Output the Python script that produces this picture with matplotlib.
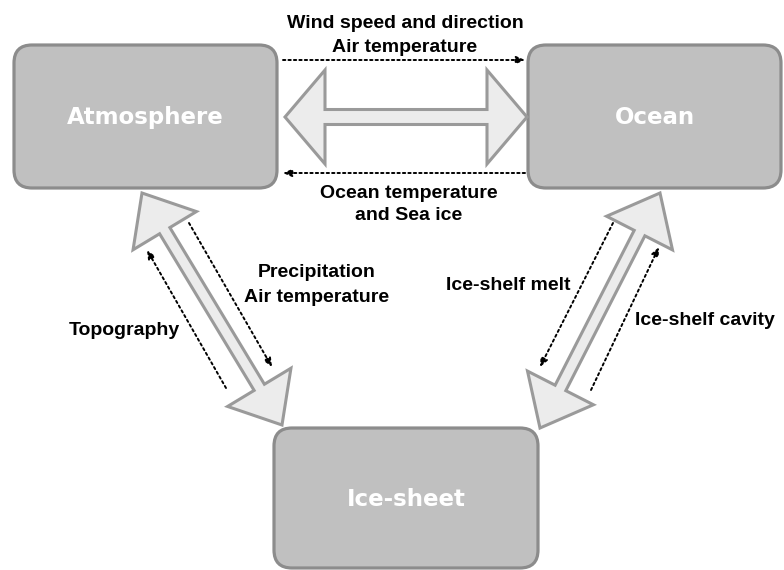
import numpy as np
import matplotlib
matplotlib.use('Agg')
import matplotlib.pyplot as plt
from matplotlib.patches import FancyBboxPatch, Polygon

# component names shown in the grey boxes
nodes = ['Atmosphere', 'Ocean', 'Ice-sheet']
# exchanged fields, one entry per text line
links = [
    ['Wind speed and direction', 'Air temperature'],
    ['Ocean temperature', 'and Sea ice'],
    ['Precipitation', 'Air temperature'],
    ['Topography'],
    ['Ice-shelf melt'],
    ['Ice-shelf cavity'],
]

# layout (pixel coordinates, y downwards)
box_xy = [(14, 45, 263, 143), (528, 45, 253, 143), (274, 428, 264, 140)]
big_arrows = [((285, 117), (527, 117), 7.5, 47, 40),
              ((142, 193), (282, 425), 6, 37, 44),
              ((660, 193), (540, 428), 6, 37, 45)]
dot_arrows = [((283, 60), (525, 60)),
              ((525, 173), (283, 173)),
              ((189, 223), (272, 367)),
              ((226, 388), (147, 250)),
              ((613, 223), (540, 367)),
              ((591, 390), (659, 247))]
# (x, first baseline, line step, align)
link_pos = [(405, 28, 24.5, 'center'),
            (409, 198, 22.5, 'center'),
            (317, 277, 25, 'center'),
            (180, 335, 0, 'right'),
            (571, 290, 0, 'right'),
            (635, 325, 0, 'left')]

BOX_FC = '#c0c0c0'
BOX_EC = '#8c8c8c'
ARR_FC = '#ececec'
ARR_EC = '#9a9a9a'


def arrowPoly(p0, p1, w, hw, hl):
    p0 = np.array(p0, float)
    p1 = np.array(p1, float)
    u = (p1 - p0) / np.linalg.norm(p1 - p0)
    n = np.array([-u[1], u[0]])
    a = p0 + u*hl
    b = p1 - u*hl
    pts = [p0, a + n*hw, a + n*w, b + n*w, b + n*hw, p1,
           b - n*hw, b - n*w, a - n*w, a - n*hw]
    return np.array(pts)


fig = plt.figure(figsize=(7.84, 5.70), dpi=100)
ax = fig.add_axes([0, 0, 1, 1])
ax.set_xlim(0, 784)
ax.set_ylim(570, 0)
ax.axis('off')

for (x, y, w, h), name in zip(box_xy, nodes):
    box = FancyBboxPatch((x, y), w, h, boxstyle='round,pad=0,rounding_size=18',
                         fc=BOX_FC, ec=BOX_EC, lw=2.3, zorder=2)
    ax.add_patch(box)
    ax.text(x + w/2, y + h/2 + 1, name, ha='center', va='center', color='white',
            fontsize=16.5, fontweight='bold', family='DejaVu Sans', zorder=3)

for p0, p1, w, hw, hl in big_arrows:
    poly = Polygon(arrowPoly(p0, p1, w, hw, hl), closed=True, fc=ARR_FC,
                   ec=ARR_EC, lw=2.2, joinstyle='miter', zorder=2)
    ax.add_patch(poly)

for start, end in dot_arrows:
    ax.annotate('', xy=end, xytext=start,
                arrowprops=dict(arrowstyle='-|>,head_length=0.5,head_width=0.22',
                                linestyle=(0, (1.2, 1.6)), color='black', lw=1.4,
                                shrinkA=0, shrinkB=0), zorder=4)

for lines, (x, y0, dy, ha) in zip(links, link_pos):
    for i, s in enumerate(lines):
        ax.text(x, y0 + i*dy, s, ha=ha, va='baseline', fontsize=14,
                fontweight='bold', family='Liberation Sans', color='black')

fig.savefig('out.png', dpi=100)
